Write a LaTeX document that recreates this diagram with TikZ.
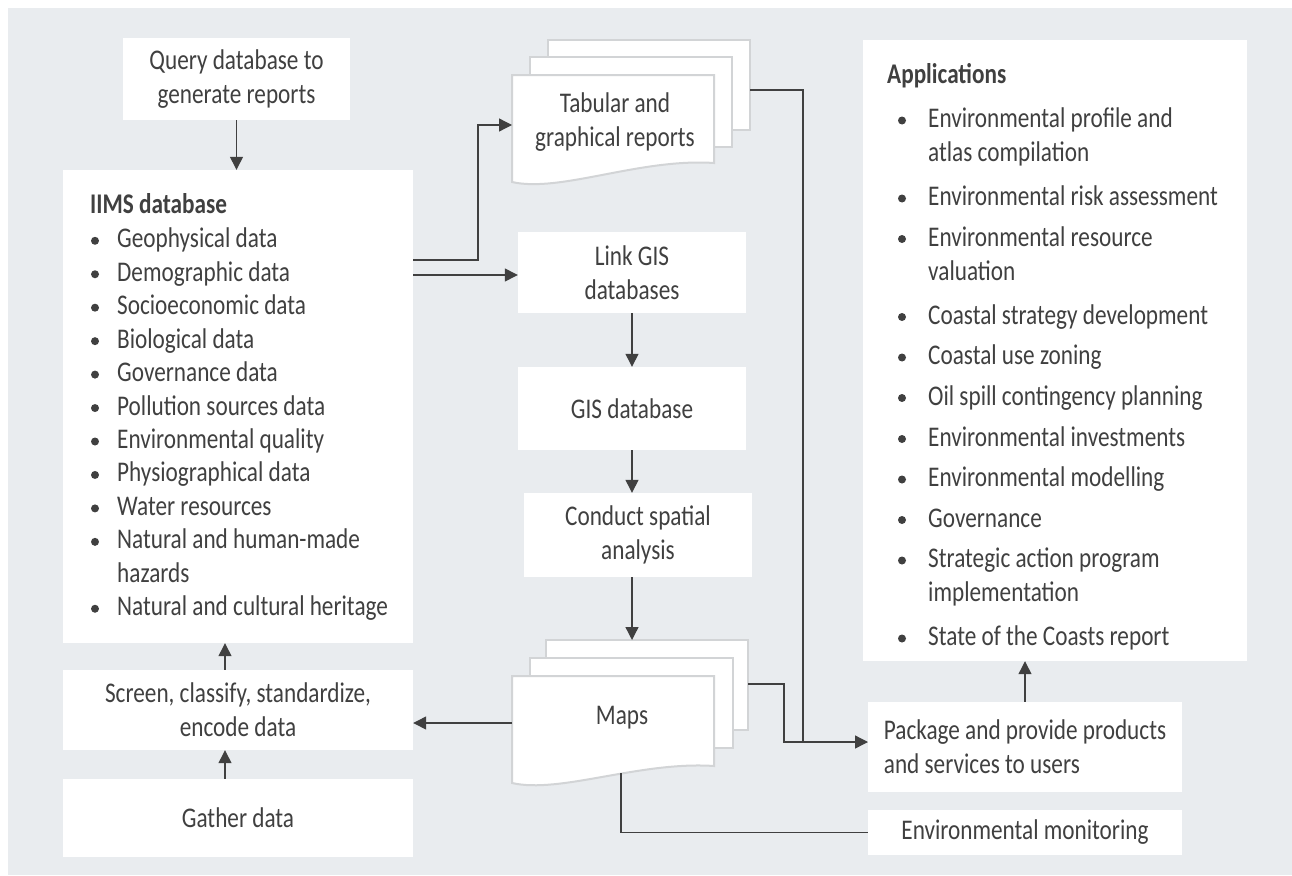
\documentclass[tikz,border=0pt]{standalone}
\usepackage{fontspec}
\setmainfont{Carlito}[FakeStretch=0.815]
\usetikzlibrary{arrows.meta,calc}

\definecolor{bg}{HTML}{E9ECEF}
\definecolor{ink}{HTML}{404040}
\definecolor{docedge}{HTML}{D2D4D6}
\newcommand\bodysize{\fontsize{28.5}{34}\selectfont}

\tikzset{
  box/.style={fill=white, inner sep=0pt, align=center, text=ink},
  doc/.style={fill=white, draw=docedge, line width=2pt},
  doctext/.style={inner sep=0pt, align=center, text=ink},
  item/.style={anchor=base west, inner sep=0pt, text=ink},
  line/.style={draw=ink, line width=1.3pt},
  arr/.style={line, -{Triangle[length=13pt,width=13pt]}},
}

\begin{document}
\begin{tikzpicture}[x=1pt, y=-1pt, every node/.style={font=\bodysize}]
\useasboundingbox (0,0) rectangle (1292,875);
\fill[bg] (8,8) rectangle (1292,875);

% left column
\node[box, minimum width=227pt, minimum height=82pt] (query) at (236.5,79) {Query database to\\generate reports};
\node[box, minimum width=350pt, minimum height=473pt] (iims) at (238,406.5) {};
\node[item, font=\bodysize\bfseries] (iimshead) at (90,213.5) {IIMS database};
\foreach \b/\t [count=\i from 0] in {1/Geophysical data, 1/Demographic data, 1/Socioeconomic data,
    1/Biological data, 1/Governance data, 1/Pollution sources data, 1/Environmental quality,
    1/Physiographical data, 1/Water resources, 1/Natural and human-made, 0/hazards,
    1/Natural and cultural heritage} {
  \node[item] (iims\i) at (117,{247.8+33.45*\i}) {\t};
  \ifnum\b=1 \fill[ink] (95,{240.8+33.45*\i}) circle (4); \fi
}
\node[box, minimum width=350pt, minimum height=80pt] (screen) at (238,710) {Screen, classify, standardize,\\encode data};
\node[box, minimum width=350pt, minimum height=78pt] (gather) at (238,818) {Gather data};

% middle column
\node[box, minimum width=228pt, minimum height=81pt] (link) at (632,272.5) {Link GIS\\databases};
\node[box, minimum width=228pt, minimum height=83pt] (gis) at (632,408.5) {GIS database};
\node[box, minimum width=228pt, minimum height=84pt] (conduct) at (638,535) {Conduct spatial\\analysis};

% document stacks
\filldraw[doc] (548,40) rectangle (750,130);
\filldraw[doc] (530,57) rectangle (732,147);
\begin{scope}[shift={(512,75)}]
  \filldraw[doc] (0,0) -- (202,0) -- (202,88) .. controls (128,83) and (48,118) .. (0,107) -- cycle;
\end{scope}
\node[doctext] (tabular) at (615,122.5) {Tabular and\\graphical reports};

\filldraw[doc] (546,640) rectangle (748,730);
\filldraw[doc] (530,658) rectangle (733,748);
\begin{scope}[shift={(512,676)}]
  \filldraw[doc] (0,0) -- (202,0) -- (202,90) .. controls (128,85) and (48,118) .. (0,107) -- cycle;
\end{scope}
\node[doctext] (maps) at (622,718) {Maps};

\coordinate (tabin) at (512,125);
\coordinate (tabout) at (750,90);
\coordinate (mapstop) at (632,640);
\coordinate (mapsout) at (748,684);
\coordinate (mapsin) at (512,723);
\coordinate (mapsbot) at (621,773);

% right column
\node[box, minimum width=384pt, minimum height=621pt] (apps) at (1055,350.5) {};
\node[item, font=\bodysize\bfseries] (appshead) at (887,83.5) {Applications};
\foreach \yy/\b/\t [count=\i] in {127.5/1/Environmental profile and, 161.5/0/atlas compilation,
    205.5/1/Environmental risk assessment, 246/1/Environmental resource, 280/0/valuation,
    324/1/Coastal strategy development, 364.5/1/Coastal use zoning,
    405/1/Oil spill contingency planning, 446/1/Environmental investments,
    486.5/1/Environmental modelling, 527/1/Governance, 567.5/1/Strategic action program,
    601.5/0/implementation, 645.5/1/State of the Coasts report} {
  \node[item] (app\i) at (928,\yy) {\t};
  \ifnum\b=1 \fill[ink] (902,\yy-7) circle (4); \fi
}
\node[box, align=left, minimum width=314pt, minimum height=90pt] (package) at (1025,747) {Package and provide products\\and services to users};
\node[box, minimum width=314pt, minimum height=45pt] (monitor) at (1025,832.5) {Environmental monitoring};

\coordinate (iimsA) at (413,260);
\coordinate (iimsB) at (413,275);
\coordinate (pkgin) at (868,742);

% connectors
\draw[arr] (query.south) -- (query.south |- iims.north);
\draw[arr] (iimsA) -- ++(65,0) |- (tabin);
\draw[arr] (iimsB) -- (iimsB -| link.west);
\draw[arr] (link.south) -- (gis.north);
\draw[arr] (gis.south) -- (gis.south |- conduct.north);
\draw[arr] (gis.south |- conduct.south) -- (mapstop);
\draw[line] (tabout) -| ($(pkgin)+(-65,0)$);
\draw[arr] (mapsout) -- ++(36,0) |- (pkgin);
\draw[arr] (mapsin) -- (mapsin -| screen.east);
\draw[arr] ([xshift=-13pt]screen.north) -- ([xshift=-13pt]screen.north |- iims.south);
\draw[arr] ([xshift=-13pt]gather.north) -- ([xshift=-13pt]gather.north |- screen.south);
\draw[arr] (package.north) -- (package.north |- apps.south);
\draw[line] (monitor.west) -| (mapsbot);
\end{tikzpicture}
\end{document}
